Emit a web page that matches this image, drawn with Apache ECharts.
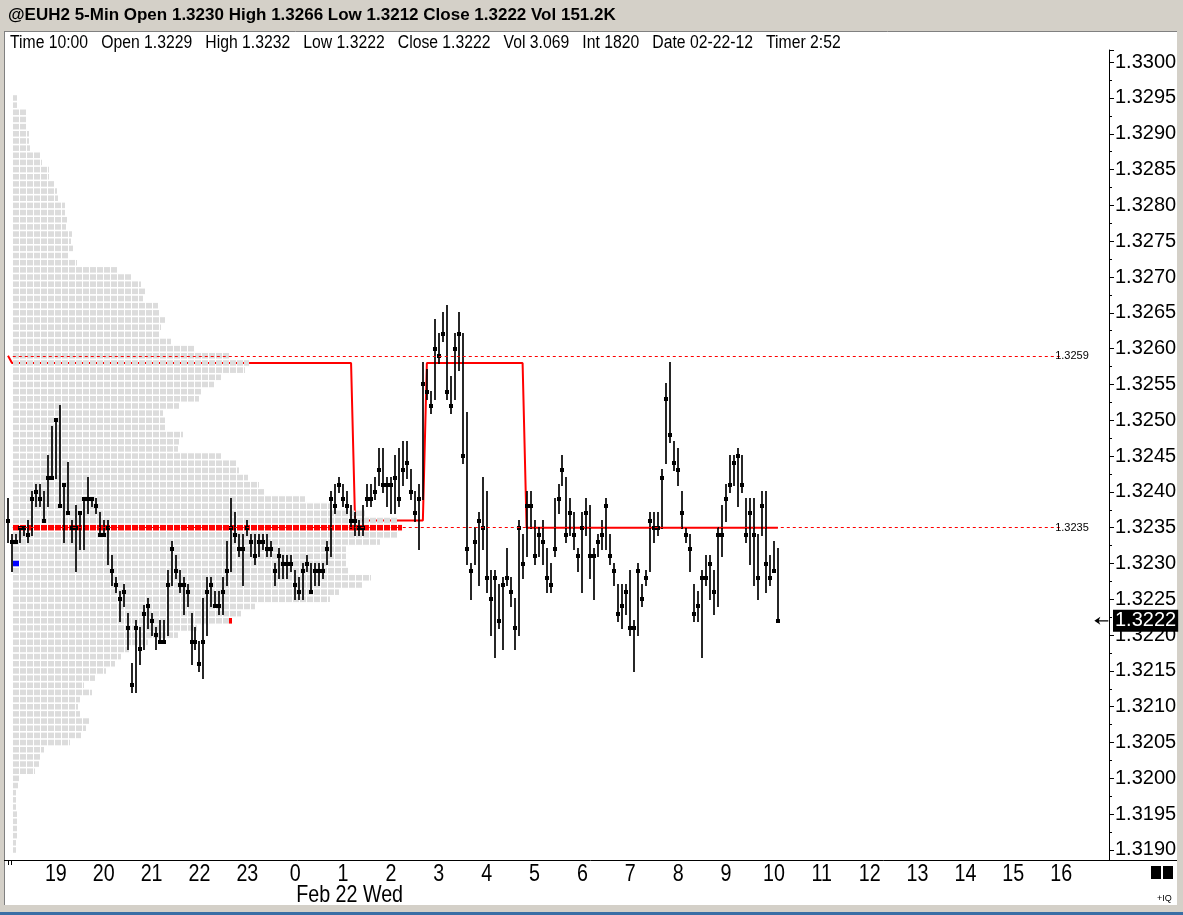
<!DOCTYPE html>
<html>
<head>
<meta charset="utf-8">
<title>@EUH2 5-Min</title>
<script src="https://cdn.jsdelivr.net/npm/echarts@6/dist/echarts.min.js"></script>
<style>
  html, body { margin: 0; padding: 0; background: #fff; }
  #chart { width: 1183px; height: 915px; }
</style>
</head>
<body>
<div id="chart"></div>
<script>
// 5-min bars, bar k sits k/12 hours after 18:00 (Feb 21)
const barHigh = [
  1.3239, 1.3234, 1.3234, 1.3235, 1.3235, 1.3236, 1.3240, 1.3241, 1.3241, 1.3240, 1.3245, 1.3249,
  1.3250, 1.3252, 1.3241, 1.3244, 1.3236, 1.3238, 1.3237, 1.3239, 1.3242, 1.3239, 1.3239, 1.3237,
  1.3236, 1.3236, 1.3231, 1.3228, 1.3226, 1.3227, 1.3223, 1.3216, 1.3222, 1.3221, 1.3224, 1.3225,
  1.3223, 1.3221, 1.3222, 1.3222, 1.3229, 1.3233, 1.3231, 1.3229, 1.3228, 1.3227, 1.3223, 1.3221,
  1.3219, 1.3225, 1.3228, 1.3228, 1.3226, 1.3226, 1.3228, 1.3233, 1.3239, 1.3237, 1.3234, 1.3234,
  1.3236, 1.3234, 1.3234, 1.3234, 1.3234, 1.3234, 1.3233, 1.3230, 1.3232, 1.3231, 1.3231, 1.3231,
  1.3229, 1.3228, 1.3230, 1.3231, 1.3230, 1.3230, 1.3230, 1.3230, 1.3233, 1.3240, 1.3241, 1.3242,
  1.3241, 1.3240, 1.3238, 1.3237, 1.3236, 1.3238, 1.3241, 1.3241, 1.3242, 1.3246, 1.3246, 1.3242,
  1.3242, 1.3245, 1.3246, 1.3247, 1.3247, 1.3243, 1.3240, 1.3241, 1.3258, 1.3257, 1.3254, 1.3264,
  1.3262, 1.3265, 1.3266, 1.3256, 1.3262, 1.3265, 1.3262, 1.3251, 1.3230, 1.3235, 1.3237, 1.3242,
  1.3240, 1.3229, 1.3229, 1.3227, 1.3228, 1.3232, 1.3228, 1.3225, 1.3236, 1.3234, 1.3240, 1.3240,
  1.3236, 1.3235, 1.3236, 1.3232, 1.3230, 1.3239, 1.3241, 1.3245, 1.3242, 1.3239, 1.3237, 1.3232,
  1.3237, 1.3239, 1.3238, 1.3232, 1.3234, 1.3236, 1.3239, 1.3234, 1.3230, 1.3227, 1.3227, 1.3227,
  1.3229, 1.3222, 1.3230, 1.3227, 1.3229, 1.3237, 1.3237, 1.3237, 1.3243, 1.3255, 1.3258, 1.3247,
  1.3246, 1.3240, 1.3235, 1.3234, 1.3227, 1.3226, 1.3229, 1.3231, 1.3231, 1.3229, 1.3235, 1.3238,
  1.3241, 1.3245, 1.3245, 1.3246, 1.3245, 1.3239, 1.3239, 1.3239, 1.3234, 1.3240, 1.3240, 1.3231,
  1.3233, 1.3232
];
const barLow = [
  1.3233, 1.3229, 1.3233, 1.3233, 1.3234, 1.3233, 1.3234, 1.3238, 1.3238, 1.3236, 1.3238, 1.3242,
  1.3242, 1.3238, 1.3233, 1.3237, 1.3233, 1.3229, 1.3232, 1.3232, 1.3237, 1.3238, 1.3237, 1.3234,
  1.3234, 1.3230, 1.3227, 1.3226, 1.3222, 1.3224, 1.3218, 1.3212, 1.3212, 1.3216, 1.3218, 1.3221,
  1.3220, 1.3218, 1.3219, 1.3219, 1.3220, 1.3227, 1.3228, 1.3226, 1.3223, 1.3224, 1.3216, 1.3218,
  1.3215, 1.3214, 1.3220, 1.3224, 1.3224, 1.3223, 1.3223, 1.3227, 1.3229, 1.3233, 1.3231, 1.3227,
  1.3234, 1.3231, 1.3230, 1.3231, 1.3232, 1.3231, 1.3231, 1.3227, 1.3228, 1.3228, 1.3228, 1.3229,
  1.3225, 1.3225, 1.3225, 1.3229, 1.3226, 1.3227, 1.3227, 1.3228, 1.3230, 1.3231, 1.3237, 1.3240,
  1.3238, 1.3237, 1.3235, 1.3234, 1.3234, 1.3234, 1.3238, 1.3238, 1.3239, 1.3241, 1.3240, 1.3238,
  1.3237, 1.3237, 1.3238, 1.3241, 1.3242, 1.3239, 1.3236, 1.3232, 1.3239, 1.3253, 1.3251, 1.3253,
  1.3258, 1.3261, 1.3253, 1.3251, 1.3253, 1.3257, 1.3244, 1.3230, 1.3225, 1.3230, 1.3227, 1.3232,
  1.3226, 1.3220, 1.3217, 1.3221, 1.3218, 1.3227, 1.3224, 1.3218, 1.3220, 1.3228, 1.3231, 1.3235,
  1.3230, 1.3231, 1.3230, 1.3226, 1.3226, 1.3231, 1.3237, 1.3241, 1.3233, 1.3234, 1.3232, 1.3229,
  1.3226, 1.3234, 1.3228, 1.3225, 1.3231, 1.3232, 1.3232, 1.3230, 1.3227, 1.3222, 1.3221, 1.3223,
  1.3220, 1.3215, 1.3220, 1.3224, 1.3227, 1.3229, 1.3233, 1.3234, 1.3235, 1.3244, 1.3247, 1.3243,
  1.3241, 1.3235, 1.3233, 1.3229, 1.3222, 1.3222, 1.3217, 1.3227, 1.3225, 1.3223, 1.3224, 1.3231,
  1.3236, 1.3240, 1.3241, 1.3238, 1.3240, 1.3233, 1.3230, 1.3227, 1.3225, 1.3234, 1.3226, 1.3227,
  1.3229, 1.3222
];
const barClose = [
  1.3236, 1.3233, 1.3233, 1.3235, 1.3235, 1.3234, 1.3239, 1.3240, 1.3239, 1.3236, 1.3242, 1.3242,
  1.3250, 1.3238, 1.3241, 1.3237, 1.3235, 1.3235, 1.3237, 1.3239, 1.3239, 1.3239, 1.3238, 1.3234,
  1.3234, 1.3235, 1.3229, 1.3227, 1.3225, 1.3226, 1.3221, 1.3213, 1.3221, 1.3218, 1.3223, 1.3224,
  1.3222, 1.3220, 1.3219, 1.3219, 1.3227, 1.3232, 1.3229, 1.3227, 1.3227, 1.3226, 1.3219, 1.3219,
  1.3216, 1.3219, 1.3226, 1.3227, 1.3224, 1.3224, 1.3226, 1.3229, 1.3235, 1.3234, 1.3232, 1.3232,
  1.3235, 1.3233, 1.3231, 1.3233, 1.3233, 1.3232, 1.3232, 1.3229, 1.3231, 1.3230, 1.3230, 1.3230,
  1.3227, 1.3226, 1.3229, 1.3230, 1.3226, 1.3229, 1.3229, 1.3229, 1.3232, 1.3239, 1.3238, 1.3241,
  1.3239, 1.3238, 1.3236, 1.3236, 1.3235, 1.3235, 1.3239, 1.3239, 1.3240, 1.3243, 1.3241, 1.3241,
  1.3241, 1.3242, 1.3239, 1.3243, 1.3244, 1.3240, 1.3237, 1.3239, 1.3255, 1.3254, 1.3252, 1.3260,
  1.3259, 1.3262, 1.3254, 1.3252, 1.3260, 1.3262, 1.3245, 1.3232, 1.3229, 1.3233, 1.3236, 1.3235,
  1.3228, 1.3225, 1.3228, 1.3222, 1.3227, 1.3228, 1.3226, 1.3221, 1.3235, 1.3230, 1.3238, 1.3238,
  1.3231, 1.3234, 1.3233, 1.3228, 1.3227, 1.3232, 1.3239, 1.3243, 1.3234, 1.3237, 1.3234, 1.3231,
  1.3235, 1.3237, 1.3231, 1.3231, 1.3233, 1.3234, 1.3238, 1.3231, 1.3229, 1.3223, 1.3224, 1.3226,
  1.3221, 1.3221, 1.3229, 1.3225, 1.3228, 1.3236, 1.3235, 1.3235, 1.3242, 1.3253, 1.3248, 1.3244,
  1.3243, 1.3237, 1.3234, 1.3232, 1.3223, 1.3224, 1.3228, 1.3228, 1.3230, 1.3226, 1.3234, 1.3234,
  1.3239, 1.3241, 1.3244, 1.3245, 1.3241, 1.3234, 1.3237, 1.3234, 1.3228, 1.3238, 1.3230, 1.3228,
  1.3229, 1.3222
];

// developing POC: level and the bar where it starts
const pocLevels = [1.3259, 1.3258, 1.3236, 1.3258, 1.3235];
const pocStarts = [0, 1, 87, 105, 130];

// volume profile, one row per tick going down from profileTop
const profileTop = 1.3295;
const profileVol = [
  4, 4, 13, 13, 13, 16, 16, 17, 27, 29,
  36, 36, 41, 44, 45, 52, 52, 54, 53, 59,
  58, 60, 55, 64, 104, 118, 128, 132, 130, 145,
  146, 152, 148, 146, 158, 181, 217, 236, 232, 208,
  201, 189, 186, 166, 150, 152, 152, 170, 166, 165,
  208, 223, 226, 235, 246, 251, 292, 317, 352, 384,
  389, 384, 367, 333, 333, 333, 335, 358, 349, 326,
  317, 242, 228, 216, 184, 165, 135, 116, 108, 102,
  93, 82, 71, 79, 67, 65, 67, 76, 73, 68,
  57, 31, 27, 26, 22, 6, 5, 3, 3, 3,
  4, 4, 4, 4, 3, 3
];
// open / close marks on the profile: [volume offset, price, width, colour]
const profileMarks = [[0, 1.3230, 6, '#0000ff'], [216, 1.3222, 3, '#ff0000']];

const sessionPoc = 1.3235;
const refLines = [1.3259, 1.3235];
const lastClose = 1.3222;
const hourLabels = ['', '19', '20', '21', '22', '23', '0', '1', '2', '3', '4', '5',
  '6', '7', '8', '9', '10', '11', '12', '13', '14', '15', '16', ''];
const dateLabel = 'Feb 22 Wed';

const titleText = '@EUH2 5-Min Open 1.3230 High 1.3266 Low 1.3212 Close 1.3222 Vol 151.2K';
const infoItems = ['Time 10:00', 'Open 1.3229', 'High 1.3232', 'Low 1.3222', 'Close 1.3222',
  'Vol 3.069', 'Int 1820', 'Date 02-22-12', 'Timer 2:52'];

const TICK = 0.0001;
const BLOCK = 7;           // profile block pitch, volume units
const X_MAX = 23;
const Y_MIN = 1.31886;
const Y_MAX = 1.33017;
const SANS = "'Liberation Sans', Arial, sans-serif";
const NARROW_X = 0.82;     // horizontal squeeze standing in for a narrow face

const barData = barClose.map((c, k) => [k / 12, barHigh[k], barLow[k], c]);
const pocData = barClose.map((c, k) => {
  let j = 0;
  while (j + 1 < pocStarts.length && pocStarts[j + 1] <= k) j++;
  return [k / 12, pocLevels[j]];
});
const profileData = profileVol.map((v, i) => [v, +(profileTop - i * TICK).toFixed(4)]);

function renderBar(params, api) {
  const t = api.value(0);
  const hi = api.coord([t, api.value(1)]);
  const lo = api.coord([t, api.value(2)]);
  const cl = api.coord([t, api.value(3)]);
  const x = Math.round(hi[0]);
  return {
    type: 'group',
    children: [
      { type: 'line', shape: { x1: x, y1: Math.round(hi[1]) - 1, x2: x, y2: Math.round(lo[1]) + 1 },
        style: { stroke: '#000', lineWidth: 1.7 } },
      { type: 'rect', shape: { x: x - 2, y: Math.round(cl[1]) - 2, width: 4, height: 4 },
        style: { fill: '#000' } }
    ]
  };
}

function renderProfile(params, api) {
  const vol = api.value(0);
  const price = api.value(1);
  const start = api.coord([0, price]);
  const rowH = api.size([0, TICK])[1];
  const unit = api.size([1, 0])[0];
  const color = Math.abs(price - sessionPoc) < 1e-6 ? '#ff0000' : '#dcdcdc';
  const children = [];
  const full = Math.floor(vol / BLOCK);
  for (let i = 0; i <= full; i++) {
    const w = i < full ? BLOCK - 1 : Math.min(vol - full * BLOCK, BLOCK - 1);
    if (w <= 0) continue;
    children.push({
      type: 'rect',
      shape: { x: start[0] + i * BLOCK * unit, y: start[1] - rowH / 2 + 0.8, width: w * unit, height: rowH - 1.6 },
      style: { fill: color }
    });
  }
  return { type: 'group', children: children };
}

function renderMark(params, api) {
  const p = api.coord([api.value(0), api.value(1)]);
  const rowH = api.size([0, TICK])[1];
  const unit = api.size([1, 0])[0];
  return {
    type: 'rect',
    shape: { x: p[0], y: p[1] - rowH / 2 + 0.8, width: api.value(2) * unit, height: rowH - 1.6 },
    style: { fill: profileMarks[params.dataIndex][3] }
  };
}

function narrowText(id, text, x, y, size, align) {
  return { id: id, type: 'text', x: x, y: y, scaleX: NARROW_X, silent: true,
    style: { text: text, fontSize: size, fontFamily: SANS, fill: '#000', align: align || 'left', verticalAlign: 'top' } };
}

function frame(toPx) {
  const g = [
    { id: 'top', type: 'rect', shape: { x: 0, y: 0, width: 1183, height: 31 }, style: { fill: '#d4d0c8' }, silent: true },
    { id: 'topLine', type: 'line', shape: { x1: 0, y1: 31.5, x2: 1183, y2: 31.5 }, style: { stroke: '#808080' }, silent: true },
    { id: 'left', type: 'rect', shape: { x: 0, y: 31, width: 4, height: 874 }, style: { fill: '#d4d0c8' }, silent: true },
    { id: 'leftLine', type: 'line', shape: { x1: 4.5, y1: 31, x2: 4.5, y2: 905 }, style: { stroke: '#808080' }, silent: true },
    { id: 'right', type: 'rect', shape: { x: 1177, y: 31, width: 6, height: 874 }, style: { fill: '#d4d0c8' }, silent: true },
    { id: 'bottom', type: 'rect', shape: { x: 0, y: 905, width: 1183, height: 7 }, style: { fill: '#d4d0c8' }, silent: true },
    { id: 'bottomBlue', type: 'rect', shape: { x: 0, y: 912, width: 1183, height: 3 }, style: { fill: '#3a6ea5' }, silent: true },
    { id: 'xLine', type: 'line', shape: { x1: 4, y1: 860.5, x2: 1177, y2: 860.5 }, style: { stroke: '#000', lineWidth: 1 }, silent: true },
    { id: 'tk1', type: 'line', shape: { x1: 8.5, y1: 861, x2: 8.5, y2: 865 }, style: { stroke: '#000' }, silent: true },
    { id: 'tk2', type: 'line', shape: { x1: 11.5, y1: 861, x2: 11.5, y2: 865 }, style: { stroke: '#000' }, silent: true },
    { id: 'sq1', type: 'rect', shape: { x: 1151, y: 866, width: 10, height: 13 }, style: { fill: '#000' }, silent: true },
    { id: 'sq2', type: 'rect', shape: { x: 1163, y: 866, width: 10, height: 13 }, style: { fill: '#000' }, silent: true },
    { id: 'iq', type: 'text', x: 1157, y: 894, style: { text: '+IQ', fontSize: 9, fontFamily: SANS, fill: '#000' }, silent: true },
    narrowText('info', infoItems.join('   '), 10, 33, 19.2)
  ];
  if (toPx) {
    hourLabels.forEach((h, v) => {
      if (h) g.push(narrowText('h' + v, h, toPx(v), 862, 24, 'center'));
    });
    g.push(narrowText('date', dateLabel, toPx(6) + 1, 883, 24));
  }
  return g;
}

const chart = echarts.init(document.getElementById('chart'));

const refLineData = refLines.map(v => [{ coord: [0.1, v], name: v.toFixed(4) }, { coord: [21.98, v] }]);
const lastPriceLine = [
  {
    coord: [0, lastClose], name: lastClose.toFixed(4),
    lineStyle: { color: 'rgba(0,0,0,0)' },
    label: { position: 'end', distance: 4, color: '#fff', backgroundColor: '#000',
      padding: [1, 2, 1, 2], fontSize: 20, fontFamily: SANS }
  },
  { coord: [X_MAX, lastClose] }
];

const option = {
  animation: false,
  backgroundColor: '#fff',
  title: {
    text: titleText, left: 8, top: 7, padding: 0,
    textStyle: { fontSize: 17, fontWeight: 'bold', fontFamily: SANS, color: '#000' }
  },
  graphic: frame(null),
  grid: { left: 8, right: 74, top: 50, bottom: 55 },
  xAxis: [
    {
      type: 'value', min: 0, max: X_MAX, interval: 1,
      axisLine: { show: false, onZero: false }, axisTick: { show: false }, splitLine: { show: false },
      axisLabel: { show: false }
    },
    { type: 'value', min: -5, max: 1096, show: false }
  ],
  yAxis: {
    type: 'value', position: 'right', min: Y_MIN, max: Y_MAX, splitNumber: 22,
    axisLine: { show: true, onZero: false, lineStyle: { color: '#000', width: 1 } },
    axisTick: { show: true, length: 5, lineStyle: { color: '#000' } },
    minorTick: { show: true, splitNumber: 2, length: 3, lineStyle: { color: '#000' } },
    splitLine: { show: false },
    axisLabel: { showMinLabel: false, showMaxLabel: false, margin: 6, fontSize: 20,
      fontFamily: SANS, color: '#000', formatter: v => v.toFixed(4) }
  },
  series: [
    {
      name: 'devPOC', type: 'line', xAxisIndex: 0, data: pocData, z: 1,
      symbol: 'none', lineStyle: { color: '#ff0000', width: 2 },
      markLine: {
        silent: true, symbol: ['none', 'none'],
        lineStyle: { color: '#ff0000', type: [3, 3], width: 1 },
        label: { position: 'end', distance: -5, formatter: '{b}', fontSize: 11, fontFamily: SANS, color: '#000' },
        data: refLineData.concat([lastPriceLine])
      }
    },
    {
      name: 'profile', type: 'custom', xAxisIndex: 1, data: profileData, z: 2,
      renderItem: renderProfile, encode: { x: 0, y: 1 }
    },
    {
      name: 'profileMarks', type: 'custom', xAxisIndex: 1, z: 3,
      data: profileMarks.map(m => [m[0], m[1], m[2]]),
      renderItem: renderMark, encode: { x: 0, y: 1 }
    },
    {
      name: 'bars', type: 'custom', xAxisIndex: 0, data: barData, z: 4,
      renderItem: renderBar, encode: { x: 0, y: [1, 2, 3] },
      markPoint: {
        silent: true,
        symbol: 'path://M0,4 L6,0 L4.5,3.4 L14,3.4 L14,4.6 L4.5,4.6 L6,8 Z',
        symbolSize: [14, 8], itemStyle: { color: '#000' }, label: { show: false },
        data: [{ coord: [X_MAX - 0.16, lastClose] }]
      }
    }
  ]
};

chart.setOption(option);
const toPx = v => chart.convertToPixel({ xAxisIndex: 0 }, v);
chart.setOption({ graphic: frame(toPx) });
</script>
</body>
</html>
